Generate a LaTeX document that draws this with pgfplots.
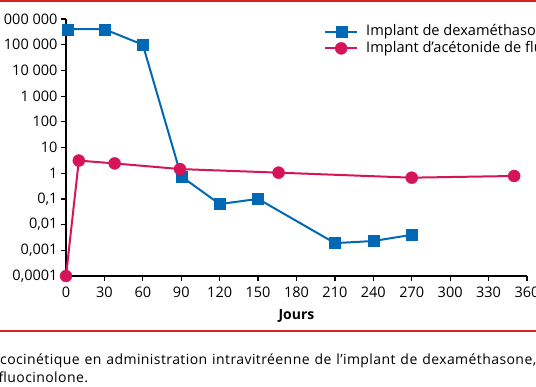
\documentclass[border=0pt]{standalone}
\usepackage{pgfplots}
\pgfplotsset{compat=1.18}
\usepackage{fontspec}
\setmainfont{Open Sans}
\newfontfamily\capfont[LetterSpace=3]{Open Sans}
\definecolor{dexblue}{RGB}{0,104,180}
\definecolor{fluopink}{RGB}{214,20,90}
\definecolor{framered}{RGB}{218,30,40}
\begin{document}
\begin{tikzpicture}
\path[use as bounding box, clip] (0pt,0pt) rectangle (536pt,386pt);
\fill[white] (0pt,0pt) rectangle (536pt,386pt);
\fill[framered] (0pt,383.5pt) rectangle (536pt,386pt);
\fill[framered] (0pt,54.4pt) rectangle (536pt,55.8pt);
\begin{axis}[
  at={(66pt,110pt)}, anchor=south west,
  scale only axis, width=461pt, height=257pt,
  xmin=0, xmax=360, ymode=log, ymin=1e-4, ymax=1e6,
  axis x line*=bottom, axis y line*=left,
  axis line style={line width=1.2pt, black},
  tick align=outside, major tick length=5pt,
  tick style={line width=1.2pt, black},
  xtick={0,30,...,360},
  xticklabels={0,30,60,90,120,150,180,210,240,270,300,330,360},
  ytick={1e-4,1e-3,1e-2,1e-1,1,10,100,1000,10000,100000,1000000},
  yticklabels={{0,0001},{0,001},{0,01},{0,1},1,10,100,1 000,10 000,100 000,1 000 000},
  yminorticks=false, xminorticks=false,
  ticklabel style={font=\fontsize{14.5}{17}\selectfont},
  xticklabel style={yshift=-2.5pt},
  xlabel={Jours},
  x label style={at={(axis description cs:0.5,0)}, anchor=base, yshift=-43pt, font=\bfseries\fontsize{14}{17}\selectfont},
  clip=false,
  legend style={at={(0.5597,0.978)}, anchor=north west, draw=none, fill=none,
    font=\fontsize{14.6}{17}\selectfont, row sep=2.5pt, inner sep=0pt,
    nodes={inner sep=0pt, text height=11pt, text depth=3pt},
    /tikz/every odd column/.style={column sep=8pt}},
  legend cell align=left,
  legend image code/.code={\draw[mark repeat=2,mark phase=2] plot coordinates {(0pt,0pt)(16pt,0pt)(32pt,0pt)};},
]
\addplot[dexblue, line width=2pt, mark=square*, mark size=5.5pt, mark options={line width=0.4pt}]
  coordinates {(1,4e5)(30,4e5)(60,1e5)(90,0.75)(120,0.063)(150,0.1)(210,0.0019)(240,0.0023)(270,0.004)};
\addlegendentry{Implant de dexaméthasone}
\addplot[fluopink, line width=2pt, mark=*, mark size=6pt, mark options={line width=0.4pt}]
  coordinates {(0,1e-4)(10,3.1)(38,2.4)(89,1.45)(166,1.05)(270,0.67)(350,0.78)};
\addlegendentry{Implant d’acétonide de fluocinolone}
\end{axis}
\node[anchor=base west, inner sep=0pt, font=\capfont\fontsize{14}{17}\selectfont] at (0pt,21.5pt) {\makebox[536pt][s]{cocinétique en administration intravitréenne de l’implant de dexaméthasone,}};
\node[anchor=base west, inner sep=0pt, font=\capfont\fontsize{14}{17}\selectfont] at (-1.5pt,3.2pt) {fluocinolone.};
\end{tikzpicture}
\end{document}
